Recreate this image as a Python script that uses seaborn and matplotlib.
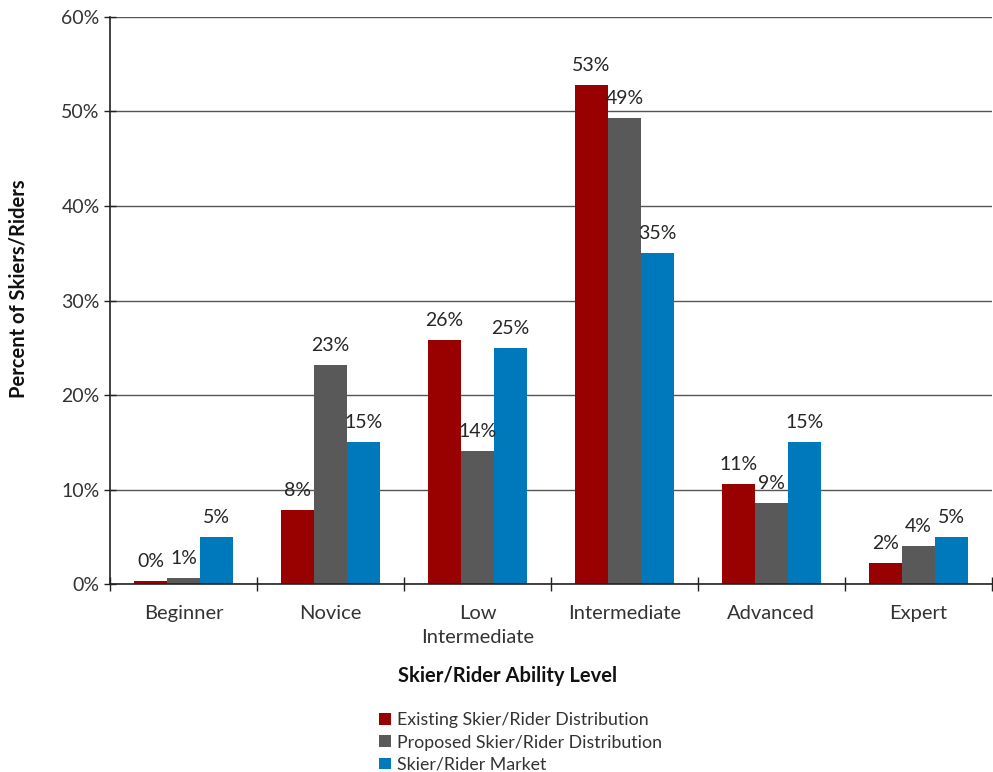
import numpy as np
import pandas as pd
import matplotlib
matplotlib.use("Agg")
import matplotlib.pyplot as plt
from matplotlib.ticker import FuncFormatter
import seaborn as sns

# Data (percent of skiers/riders)
levels = ["Beginner", "Novice", "Low\nIntermediate", "Intermediate", "Advanced", "Expert"]
series = ["Existing Skier/Rider Distribution",
          "Proposed Skier/Rider Distribution",
          "Skier/Rider Market"]
existing = [0.3, 7.8, 25.8, 52.8, 10.6, 2.2]
proposed = [0.6, 23.2, 14.1, 49.3, 8.6, 4.0]
market = [5.0, 15.0, 25.0, 35.0, 15.0, 5.0]
colors = ["#990000", "#595959", "#0079BC"]

# Long format for seaborn
df = pd.DataFrame({
    "level": levels * 3,
    "series": [s for s in series for _ in levels],
    "pct": existing + proposed + market,
})

sns.set_style("white")
plt.rcParams["font.family"] = ["Lato", "DejaVu Sans"]

fig = plt.figure(figsize=(9.93, 7.72), dpi=100)
ax = fig.add_axes([0.1108, 0.2435, 0.888, 0.7345])

sns.barplot(data=df, x="level", y="pct", hue="series", order=levels,
            hue_order=series, palette=colors, saturation=1, width=0.67,
            ax=ax, errorbar=None, linewidth=0)

# Data labels above bars
for cont in ax.containers:
    ax.bar_label(cont, fmt="{:.0f}%", padding=8, fontsize=14, color="#262626")

# Axes styling (Excel look)
ax.set_ylim(0, 60)
ax.set_xlim(-0.5, 5.5)
ax.set_yticks(np.arange(0, 61, 10))
ax.yaxis.set_major_formatter(FuncFormatter(lambda v, p: f"{v:.0f}%"))
ax.grid(axis="y", color="#555555", linewidth=1)
ax.set_axisbelow(True)
for side in ["top", "right"]:
    ax.spines[side].set_visible(False)
for side in ["left", "bottom"]:
    ax.spines[side].set_color("#222222")
    ax.spines[side].set_linewidth(1.2)

ax.tick_params(axis="y", direction="inout", length=9, width=1, color="#222222",
               labelsize=14, labelcolor="#333333", pad=3, left=True)
ax.tick_params(axis="x", which="major", length=0, labelsize=14.5,
               labelcolor="#333333", pad=15)
ax.set_xticks(np.arange(-0.5, 6, 1), minor=True)
ax.tick_params(axis="x", which="minor", direction="inout", length=10, width=1,
               color="#222222", bottom=True)
for lbl in ax.get_xticklabels():
    lbl.set_linespacing(1.5)

# Axis titles placed like the original
ax.set_xlabel("")
ax.set_ylabel("")
fig.text(508 / 993, 1 - 676 / 772, "Skier/Rider Ability Level", fontsize=14.5,
         fontweight="bold", color="#111111", ha="center", va="center")
fig.text(19 / 993, 1 - 289 / 772, "Percent of Skiers/Riders", fontsize=14.5,
         fontweight="bold", color="#111111", ha="center", va="center",
         rotation=90)

# Legend below the chart, stacked vertically
handles, labels = ax.get_legend_handles_labels()
ax.get_legend().remove()
fig.legend(handles, labels, loc="upper left", bbox_to_anchor=(0.366, 0.098),
           frameon=False, fontsize=12.8, handlelength=0.65, handleheight=0.65,
           handletextpad=0.35, labelspacing=0.35, labelcolor="#333333")

fig.savefig("out.png", dpi=100)
